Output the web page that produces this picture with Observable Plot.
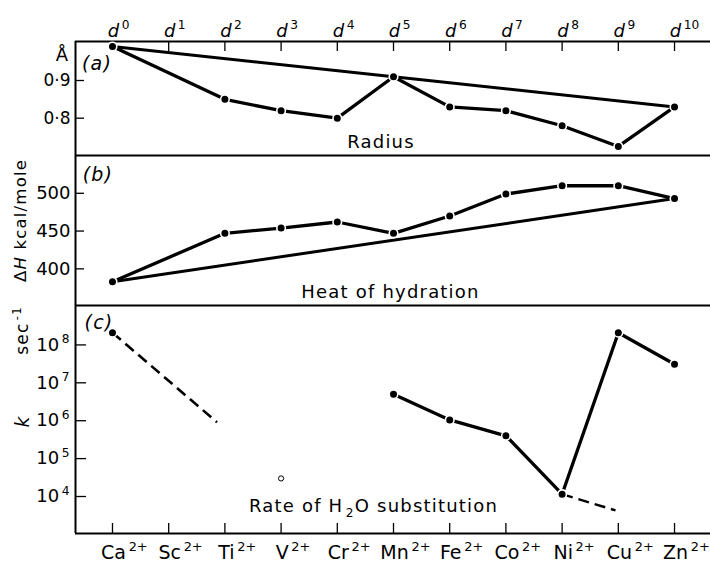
<!DOCTYPE html>
<html>
<head>
<meta charset="utf-8">
<script src="https://cdn.jsdelivr.net/npm/d3@7"></script>
<script src="https://cdn.jsdelivr.net/npm/@observablehq/plot@0.6"></script>
<style>
  html, body { margin: 0; padding: 0; background: #fff; }
  #chart { position: relative; width: 710px; height: 562px; background: #fff; overflow: hidden; }
  #chart svg { position: absolute; left: 0; display: block; background: transparent !important; overflow: visible; }
</style>
</head>
<body>
<div id="chart"></div>
<script>
// ---------- data ----------
const ions = ["Ca", "Sc", "Ti", "V", "Cr", "Mn", "Fe", "Co", "Ni", "Cu", "Zn"];
const dElectrons = [0, 1, 2, 3, 4, 5, 6, 7, 8, 9, 10];

// (a) ionic radius, Å (Sc2+ not shown)
const radius = [0.99, null, 0.85, 0.82, 0.80, 0.91, 0.83, 0.82, 0.78, 0.725, 0.83];
const radiusTrendAt = [0, 5, 10];
const radiusTicks = [0.8, 0.9];

// (b) heat of hydration, kcal/mole
const hydration = [383, null, 447, 454, 462, 447, 470, 499, 510, 510, 493];
const hydrationTrendAt = [0, 10];
const hydrationTicks = [400, 450, 500];

// (c) rate constant of H2O substitution, sec^-1
const rate = [2.1e8, null, null, null, null, 5e6, 1.05e6, 4e5, 1.15e4, 2.1e8, 3.1e7];
const rateOpen = [null, null, null, 3e4, null, null, null, null, null, null, null];
const rateConnectedFrom = 5;
const caExtrapolation = [[0, 2.1e8], [1.86, 9.1e5]];
const niExtrapolation = [[8, 1.15e4], [8.95, 4.3e3]];
const rateTicks = [1e4, 1e5, 1e6, 1e7, 1e8];

// ---------- helpers ----------
const rows = arr => arr.map((v, i) => ({i, v})).filter(d => d.v != null);
const xDomain = [-0.658, 10.64];
const W = 710, ML = 75;
const pxX = (W - ML) / (xDomain[1] - xDomain[0]);   // pixels per category step
const font = "DejaVu Sans";

function panel(opts) {
  return Plot.plot({
    width: W, marginLeft: ML, marginRight: 0,
    x: {domain: xDomain, axis: null, label: null},
    style: {background: "transparent", fontFamily: font, fontSize: "17px", color: "#000"},
    ...opts
  });
}
// inward y ticks on the left edge (length in px)
const leftTicks = (ticks, len) =>
  Plot.ruleY(ticks, {y: d => d, x1: xDomain[0], x2: xDomain[0] + len / pxX, strokeWidth: 1.3});

const SVGNS = "http://www.w3.org/2000/svg";
function richText(svg) {
  svg.querySelectorAll("text").forEach(t => {
    const s = t.textContent;
    if (!s.includes("{")) return;
    const fs = parseFloat(getComputedStyle(t).fontSize);
    t.textContent = "";
    let base = 0;
    for (const part of s.split(/(\{[i^_]:[^}]*\})/)) {
      if (!part) continue;
      const m = part.match(/^\{([i^_]):([^}]*)\}$/);
      const ts = document.createElementNS(SVGNS, "tspan");
      let off = 0;
      if (m) {
        ts.textContent = m[2];
        if (m[1] === "i") ts.setAttribute("font-style", "italic");
        else {
          ts.setAttribute("font-size", (fs * 0.68).toFixed(1));
          off = m[1] === "^" ? -0.42 * fs : 0.28 * fs;
          ts.setAttribute("dx", (0.14 * fs).toFixed(1));
        }
      } else ts.textContent = part;
      if (off !== base) { ts.setAttribute("dy", (off - base).toFixed(1)); base = off; }
      t.appendChild(ts);
    }
  });
  svg.querySelectorAll('g[aria-label="x-axis tick label"] text').forEach(t => {
    const main = t.querySelector("tspan");
    if (!main) return;
    const Wt = t.getBBox().width, M = main.getComputedTextLength();
    t.setAttribute("x", ((Wt - M) / 2 + 1).toFixed(1));
  });
  svg.querySelectorAll('g[aria-label="text"] text').forEach(t => t.setAttribute("letter-spacing", "1.2"));
}

const chart = document.getElementById("chart");
function mount(svg, top) {
  svg.style.top = top + "px";
  chart.appendChild(svg);
  richText(svg);
}

// ---------- (a) radius ----------
const radiusRows = rows(radius);
const radiusTrend = radiusTrendAt.map(i => ({i, v: radius[i]}));
const yA = [0.701, 1.0035];
const pxA = 114 / (yA[1] - yA[0]);
mount(panel({
  height: 160, marginTop: 41, marginBottom: 5,
  y: {domain: yA, axis: null, label: null},
  marks: [
    Plot.ruleY([yA[1]], {strokeWidth: 2}),
    Plot.ruleX([xDomain[0]], {strokeWidth: 2}),
    Plot.ruleX(dElectrons, {x: d => d, y1: yA[1], y2: yA[1] - 10 / pxA, strokeWidth: 1.3}),
    Plot.axisX(dElectrons, {anchor: "top", tickSize: 0, tickPadding: 5, fontSize: 18, tickFormat: i => `{i:d}{^:${i}}`, label: null}),
    leftTicks(radiusTicks, 9),
    Plot.axisY(radiusTicks, {anchor: "left", tickSize: 0, tickPadding: 5, fontSize: 17, tickFormat: v => v.toFixed(1).replace(".", "·"), label: null}),
    Plot.line(radiusTrend, {x: "i", y: "v", strokeWidth: 3}),
    Plot.line(radiusRows, {x: "i", y: "v", strokeWidth: 3.3}),
    Plot.dot(radiusRows, {x: "i", y: "v", r: 4.3, fill: "black", stroke: "white", strokeWidth: 1.6}),
    Plot.text(["Å"], {text: d => d, frameAnchor: "top-left", dx: -13, dy: 14, textAnchor: "middle", lineAnchor: "middle", fontSize: 18}),
    Plot.text(["(a)"], {text: d => d, frameAnchor: "top-left", dx: 21.5, dy: 22, textAnchor: "middle", lineAnchor: "middle", fontSize: 19, fontStyle: "italic"}),
    Plot.text(["Radius"], {text: d => d, frameAnchor: "bottom-left", dx: 305.5, dy: -12.8, textAnchor: "middle", lineAnchor: "middle", fontSize: 18})
  ]
}), 0);

// ---------- (b) heat of hydration ----------
const hydRows = rows(hydration);
const hydTrend = hydrationTrendAt.map(i => ({i, v: hydration[i]}));
const yB = [351.5, 550];
mount(panel({
  height: 160, marginTop: 5, marginBottom: 5,
  y: {domain: yB, axis: null, label: null},
  marks: [
    Plot.ruleY([yB[1]], {strokeWidth: 2}),
    Plot.ruleX([xDomain[0]], {strokeWidth: 2}),
    leftTicks(hydrationTicks, 9),
    Plot.axisY(hydrationTicks, {anchor: "left", tickSize: 0, tickPadding: 5, fontSize: 18, tickFormat: v => String(v), label: null}),
    Plot.line(hydTrend, {x: "i", y: "v", strokeWidth: 3}),
    Plot.line(hydRows, {x: "i", y: "v", strokeWidth: 3.3}),
    Plot.dot(hydRows, {x: "i", y: "v", r: 4.3, fill: "black", stroke: "white", strokeWidth: 1.6}),
    Plot.text(["(b)"], {text: d => d, frameAnchor: "top-left", dx: 22.5, dy: 19, textAnchor: "middle", lineAnchor: "middle", fontSize: 19, fontStyle: "italic"}),
    Plot.text(["Heat of hydration"], {text: d => d, frameAnchor: "bottom-left", dx: 315, dy: -13.7, textAnchor: "middle", lineAnchor: "middle", fontSize: 18}),
    Plot.text(["Δ{i:H} kcal/mole"], {text: d => d, frameAnchor: "left", dx: -55, dy: -10, rotate: -90, textAnchor: "middle", lineAnchor: "middle", fontSize: 16.5})
  ]
}), 150);

// ---------- (c) rate of H2O substitution ----------
const rateRows = rows(rate);
const rateLine = rateRows.filter(d => d.i >= rateConnectedFrom);
const openRows = rows(rateOpen);
const yC = [10 ** 3.024, 10 ** 9.04];
const pxDecade = 228 / (9.04 - 3.024);
mount(panel({
  height: 262, marginTop: 5, marginBottom: 29,
  y: {type: "log", domain: yC, axis: null, label: null},
  marks: [
    Plot.ruleY([yC[1]], {strokeWidth: 2}),
    Plot.ruleY([yC[0]], {strokeWidth: 2}),
    Plot.ruleX([xDomain[0]], {strokeWidth: 2}),
    Plot.ruleX(dElectrons, {x: d => d, y1: yC[0], y2: yC[0] * 10 ** (10 / pxDecade), strokeWidth: 1.3}),
    Plot.axisX(dElectrons, {anchor: "bottom", tickSize: 0, tickPadding: 12, fontSize: 19, tickFormat: i => `${ions[i]}{^:2+}`, label: null}),
    leftTicks(rateTicks, 11),
    Plot.axisY(rateTicks, {anchor: "left", tickSize: 0, tickPadding: 6, fontSize: 18, tickFormat: v => `10{^:${Math.round(Math.log10(v))}}`, label: null}),
    Plot.line(caExtrapolation, {x: d => d[0], y: d => d[1], strokeWidth: 2.6, strokeDasharray: "11,6", strokeLinecap: "butt"}),
    Plot.line(niExtrapolation, {x: d => d[0], y: d => d[1], strokeWidth: 2.4, strokeDasharray: "11,6", strokeLinecap: "butt"}),
    Plot.line(rateLine, {x: "i", y: "v", strokeWidth: 3.3}),
    Plot.dot(rateRows, {x: "i", y: "v", r: 4.3, fill: "black", stroke: "white", strokeWidth: 1.6}),
    Plot.dot(openRows, {x: "i", y: "v", r: 2.6, fill: "white", stroke: "black", strokeWidth: 1}),
    Plot.text(["(c)"], {text: d => d, frameAnchor: "top-left", dx: 23.5, dy: 17, textAnchor: "middle", lineAnchor: "middle", fontSize: 19, fontStyle: "italic"}),
    Plot.text(["Rate of H{_:2}O substitution"], {text: d => d, frameAnchor: "bottom-left", dx: 298, dy: -27.5, textAnchor: "middle", lineAnchor: "middle", fontSize: 18}),
    Plot.text(["sec{^:-1}"], {text: d => d, frameAnchor: "top-left", dx: -53, dy: 25, rotate: -90, textAnchor: "middle", lineAnchor: "middle", fontSize: 17}),
    Plot.text(["{i:k}"], {text: d => d, frameAnchor: "top-left", dx: -53, dy: 116, rotate: -90, textAnchor: "middle", lineAnchor: "middle", fontSize: 19})
  ]
}), 300);
</script>
</body>
</html>
